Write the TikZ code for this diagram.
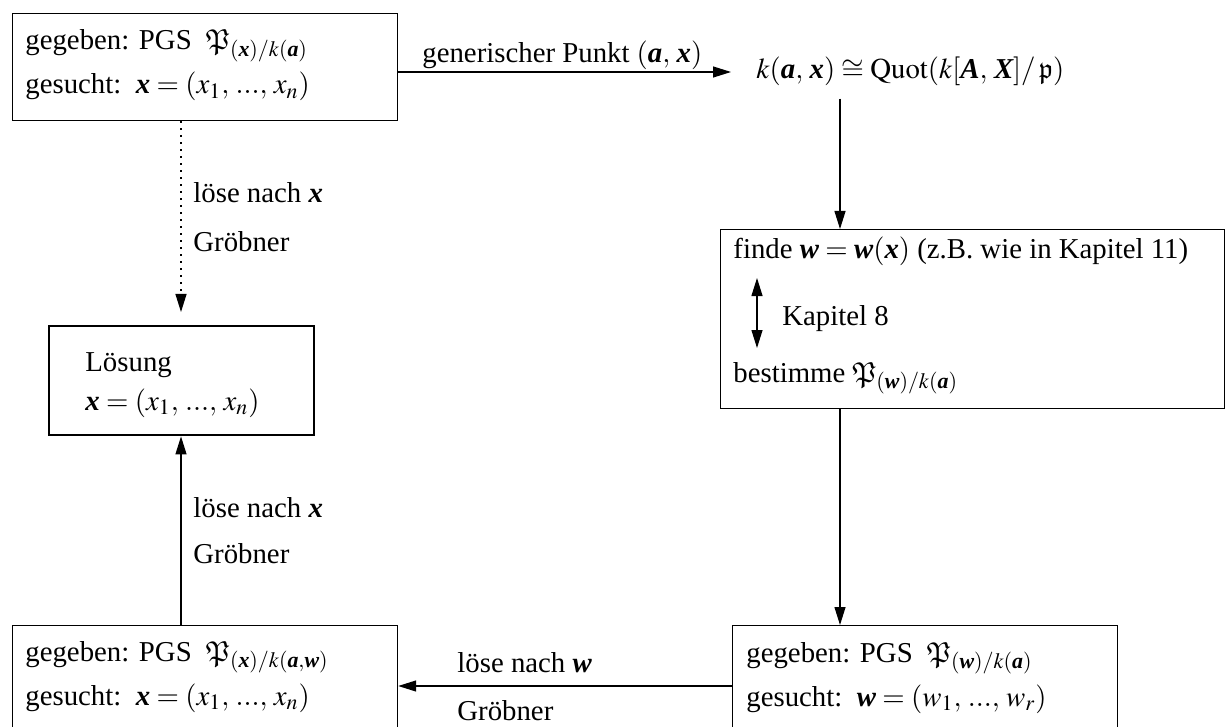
\documentclass[tikz,border=0pt]{standalone}
\usepackage{amsmath}
\usepackage{mathptmx}
\usepackage{amssymb}
\usepackage{fontspec}
\setmainfont{Liberation Serif}
\usetikzlibrary{arrows.meta}
\newcommand{\bv}[1]{\text{\bfseries\itshape #1}}
\newcommand{\PP}{\mathfrak{P}}
\newcommand{\xs}[1]{(#1_1,\, ...,\, #1}
\begin{document}
\begin{tikzpicture}[x=0.5pt,y=-0.5pt, font=\fontsize{14.4}{18}\selectfont,
  box/.style={draw, line width=0.6pt, inner sep=0pt, anchor=north west},
  txt/.style={anchor=base west, inner sep=0pt},
  lab/.style={anchor=base west, inner sep=0pt},
  arr/.style={line width=0.6pt, -{Triangle[length=9pt,width=5.5pt]}}]
\useasboundingbox (0,0) rectangle (1231,727);
% boxes
\node[box, minimum width=192.5pt, minimum height=53.5pt] (tl) at (12,13) {};
\node[box, minimum width=252pt, minimum height=89.5pt] (fb) at (720,229) {};
\node[box, minimum width=192.5pt, minimum height=60pt] (br) at (732,625) {};
\node[box, minimum width=192.5pt, minimum height=60pt] (bl) at (12,625) {};
\node[box, line width=1.2pt, minimum width=132.5pt, minimum height=54.5pt] (los) at (48,325) {};
% texts
\node[txt] (tla) at (25,50) {gegeben: PGS\ \ $\PP_{(\bv{x})/k(\bv{a})}$};
\node[txt] (tlb) at (25,94) {gesucht:\ \ $\bv{x} = (x_1,\, ...,\, x_n)$};
\node[txt] (kq) at (756,79) {$k(\bv{a},\,\bv{x}) \cong \mathrm{Quot}(k[\bv{A},\,\bv{X}]/\,\mathfrak{p})$};
\node[txt] (fa) at (733,258) {finde $\bv{w} = \bv{w}(\bv{x})$ (z.B. wie in Kapitel 11)};
\node[txt] (fk) at (782,325) {Kapitel 8};
\node[txt] (fc) at (733,382) {bestimme $\PP_{(\bv{w})/k(\bv{a})}$};
\node[txt] (bra) at (746,662) {gegeben: PGS\ \ $\PP_{(\bv{w})/k(\bv{a})}$};
\node[txt] (brb) at (746,706) {gesucht:\ \ $\bv{w} = (w_1,\, ...,\, w_r)$};
\node[txt] (bla) at (25,661) {gegeben: PGS\ \ $\PP_{(\bv{x})/k(\bv{a},\bv{w})}$};
\node[txt] (blb) at (25,705) {gesucht:\ \ $\bv{x} = (x_1,\, ...,\, x_n)$};
\node[txt] (losa) at (85,371) {Lösung};
\node[txt] (losb) at (85,410) {$\bv{x} = (x_1,\, ...,\, x_n)$};
% labels
\node[lab] (l1) at (422,63) {generischer Punkt $(\bv{a},\,\bv{x})$};
\node[lab] (l2) at (193,203) {löse nach $\bv{x}$};
\node[lab] (l3) at (193,252) {Gröbner};
\node[lab] (l4) at (193,517) {löse nach $\bv{x}$};
\node[lab] (l5) at (193,563) {Gröbner};
\node[lab] (l6) at (457,672) {löse nach $\bv{w}$};
\node[lab] (l7) at (457,720) {Gröbner};
% helper coordinates
\coordinate (h1) at (0,72);
\coordinate (h2) at (0,686);
\coordinate (cx) at (840,0);
\coordinate (cl) at (181,0);
\coordinate (d1) at (757,278);
\coordinate (d2) at (757,348);
% connectors
\draw[arr] (tl.east |- h1) -- ([xshift=-12.5pt]kq.west |- h1);
\draw[arr] ([yshift=-6pt]kq.south -| cx) -- (fb.north -| cx);
\draw[line width=0.6pt, {Triangle[length=9pt,width=5.5pt]}-{Triangle[length=9pt,width=5.5pt]}] (d1) -- (d2);
\draw[arr] (fb.south -| cx) -- (br.north -| cx);
\draw[arr] (br.west |- h2) -- (bl.east |- h2);
\draw[arr] (bl.north -| cl) -- (los.south -| cl);
\draw[arr, dash pattern=on 0.7pt off 2.8pt] (tl.south -| cl) -- ([yshift=6.5pt]los.north -| cl);
\end{tikzpicture}
\end{document}
